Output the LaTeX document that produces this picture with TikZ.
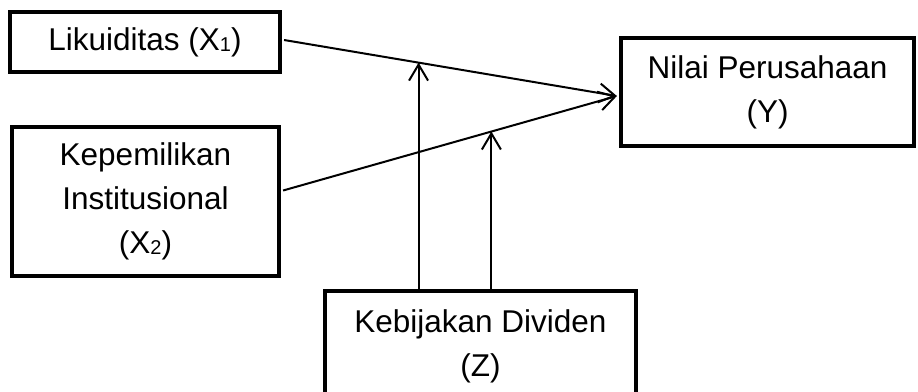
\documentclass[tikz,border=0pt]{standalone}
\usepackage{fontspec}
\setmainfont{Liberation Sans}
\usetikzlibrary{arrows.meta,calc}
\newcommand{\lowsub}[1]{\raisebox{-0.04em}{\fontsize{20}{20}\selectfont #1}}
\begin{document}
\begin{tikzpicture}[x=1pt,y=-1pt,
  box/.style={draw, line width=4.2pt, rectangle, align=center, inner sep=0pt,
    font=\fontsize{31.5}{44}\selectfont},
  link/.style={line width=2pt, -{Straight Barb[length=16pt,width=19pt,line width=2pt]}}]
\clip (0,0) rectangle (918,391);
\useasboundingbox (0,0) rectangle (918,391);
\node[box, minimum width=270pt, minimum height=60pt] (L) at (145,42) {Likuiditas (X\lowsub{1})};
\node[box, minimum width=267pt, minimum height=149pt] (K) at (145.5,201.5) {Kepemilikan\\Institusional\\(X\lowsub{2})};
\node[box, minimum width=293pt, minimum height=108pt] (N) at (767.5,92) {Nilai Perusahaan\\(Y)};
\node[box, minimum width=311pt, minimum height=110pt] (D) at (480.5,346) {Kebijakan Dividen\\(Z)};
\coordinate (t) at ($(N.west)+(-2,4)$);
\coordinate (s1) at ($(L.east)+(2,-2)$);
\coordinate (s2) at ($(K.east)+(2,-11)$);
\draw[link] (s1) -- (t) coordinate[pos=0.404] (m1);
\draw[link] (s2) -- (t) coordinate[pos=0.624] (m2);
\draw[link] (D.north -| m1) -- (m1);
\draw[link] (D.north -| m2) -- (m2);
\end{tikzpicture}
\end{document}
